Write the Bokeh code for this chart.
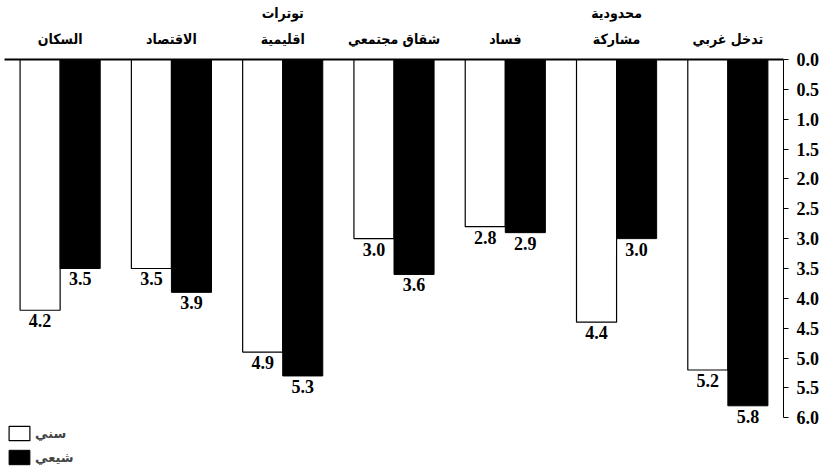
from bokeh.plotting import figure
from bokeh.models import (ColumnDataSource, FactorRange, Range1d, FixedTicker,
                          PrintfTickFormatter, Legend, LegendItem)
from bokeh.transform import dodge
from bokeh.core.properties import value
from bokeh.embed import file_html
from bokeh.resources import INLINE

# ---- data ----
categories = ["السكان", "الاقتصاد", "توترات\nاقليمية", "شقاق مجتمعي",
              "فساد", "محدودية\nمشاركة", "تدخل غربي"]
sunni = [4.2, 3.5, 4.9, 3.0, 2.8, 4.4, 5.2]
shia = [3.5, 3.9, 5.3, 3.6, 2.9, 3.0, 5.8]
series_names = ["سني", "شيعي"]
y_ticks = [0.0, 0.5, 1.0, 1.5, 2.0, 2.5, 3.0, 3.5, 4.0, 4.5, 5.0, 5.5, 6.0]

source = ColumnDataSource(dict(
    cat=categories,
    sunni=sunni,
    shia=shia,
    sunni_lbl=["%.1f" % v for v in sunni],
    shia_lbl=["%.1f" % v for v in shia],
))

p = figure(
    x_range=FactorRange(*categories),
    y_range=Range1d(6.85, 0.0),
    frame_width=779, frame_height=409,
    x_axis_location="above", y_axis_location="right",
    output_backend="svg", toolbar_location=None,
    min_border_left=4, min_border_bottom=0, min_border_top=59, min_border_right=10,
    background_fill_color="white", border_fill_color="white",
)
p.outline_line_color = None
p.xgrid.grid_line_color = None
p.ygrid.grid_line_color = None

BW = 0.36
r_sunni = p.vbar(x=dodge("cat", -BW / 2, range=p.x_range), top=0.0, bottom="sunni",
                 width=BW, source=source, fill_color="white", line_color="black",
                 line_width=1.2)
r_shia = p.vbar(x=dodge("cat", BW / 2, range=p.x_range), top=0.0, bottom="shia",
                width=BW, source=source, fill_color="black", line_color="black",
                line_width=1)

lbl_font = value("Liberation Serif")
p.text(x=dodge("cat", -BW / 2, range=p.x_range), y="sunni", text="sunni_lbl",
       source=source, text_align="center", text_baseline="top", y_offset=4,
       text_font=lbl_font, text_font_style="bold", text_font_size="18px",
       text_color="black")
p.text(x=dodge("cat", BW / 2, range=p.x_range), y="shia", text="shia_lbl",
       source=source, text_align="center", text_baseline="top", y_offset=4,
       text_font=lbl_font, text_font_style="bold", text_font_size="18px",
       text_color="black")

# top (category) axis
xa = p.xaxis[0]
xa.axis_line_color = "black"
xa.axis_line_width = 2
xa.major_tick_line_color = None
xa.minor_tick_line_color = None
xa.major_tick_out = 0
xa.major_tick_in = 0
xa.major_label_standoff = 13
xa.major_label_text_font = "DejaVu Sans Condensed"
xa.major_label_text_font_style = "bold"
xa.major_label_text_font_size = "14px"
xa.major_label_text_line_height = 1.6
xa.major_label_text_color = "black"

# right value axis
ya = p.yaxis[0]
ya.ticker = FixedTicker(ticks=y_ticks)
ya.formatter = PrintfTickFormatter(format="%.1f")
ya.bounds = (0, 6)
ya.axis_line_color = "black"
ya.axis_line_width = 1
ya.major_tick_out = 5
ya.major_tick_in = 0
ya.minor_tick_line_color = None
ya.major_label_standoff = 8
ya.major_label_text_font = "Liberation Serif"
ya.major_label_text_font_style = "bold"
ya.major_label_text_font_size = "18px"
ya.major_label_text_color = "black"

legend = Legend(items=[LegendItem(label=series_names[0], renderers=[r_sunni]),
                       LegendItem(label=series_names[1], renderers=[r_shia])],
                location=(2, 2), margin=0, padding=2, spacing=6,
                glyph_width=26, glyph_height=18, label_standoff=3,
                border_line_color=None, background_fill_alpha=0,
                label_text_font="DejaVu Sans", label_text_font_style="bold",
                label_text_font_size="13px", label_height=18)
p.add_layout(legend)

open("out.html", "w").write(file_html(p, INLINE))
